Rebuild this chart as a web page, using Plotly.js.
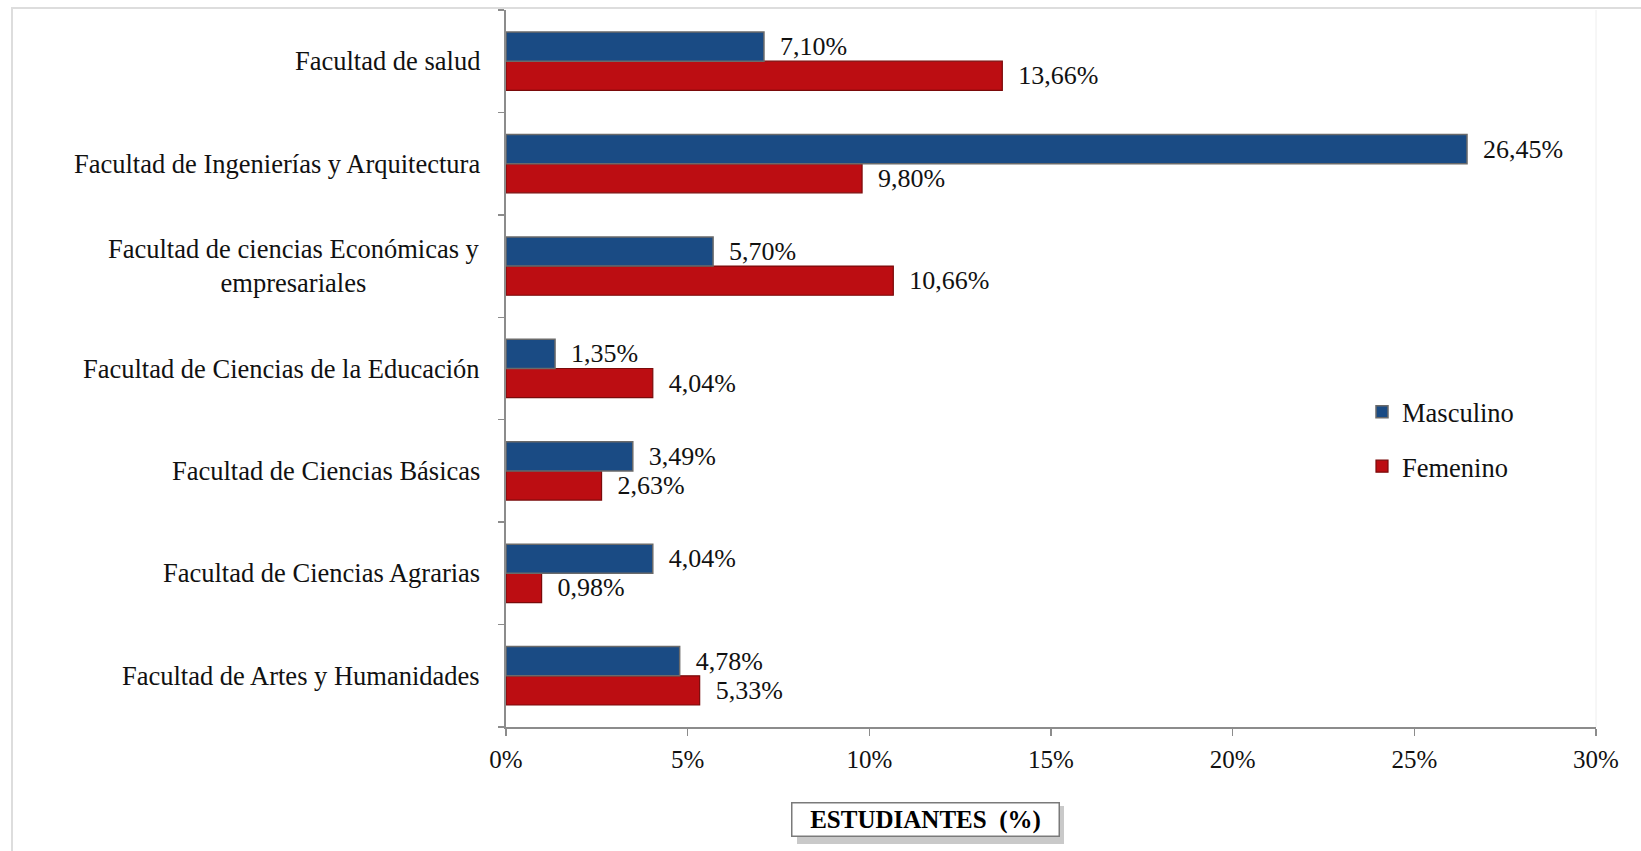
<!DOCTYPE html>
<html>
<head>
<meta charset="utf-8">
<script src="https://cdn.plot.ly/plotly-3.0.1.min.js"></script>
<style>
  html, body { margin: 0; padding: 0; background: #ffffff; }
  #chart { width: 1641px; height: 851px; }
</style>
</head>
<body>
<div id="chart"></div>
<script>
// Categories listed bottom to top
const categories = [
  "Facultad de Artes y Humanidades",
  "Facultad de Ciencias Agrarias",
  "Facultad de Ciencias Básicas",
  "Facultad de Ciencias de la Educación",
  "Facultad de ciencias Económicas y<br>empresariales",
  "Facultad de Ingenierías y Arquitectura",
  "Facultad de salud"
];
const masculino = [4.78, 4.04, 3.49, 1.35, 5.70, 26.45, 7.10];
const femenino  = [5.33, 0.98, 2.63, 4.04, 10.66, 9.80, 13.66];
const seriesNames = ["Masculino", "Femenino"];
const xTickVals = [0, 5, 10, 15, 20, 25, 30];
const xTickLabels = ["0%", "5%", "10%", "15%", "20%", "25%", "30%"];
const axisTitle = "ESTUDIANTES  (%)";

const fmt = v => v.toFixed(2).replace(".", ",") + "%";
const serif = "Liberation Serif";

const W = 1641, H = 851;
const L = 506, R = 1596, T = 10, B = 727;
const px = x => (x - L) / (R - L);
const py = y => (B - y) / (B - T);

const traceFem = {
  type: "bar", orientation: "h", name: seriesNames[1],
  y: categories, x: femenino,
  text: femenino.map(fmt),
  texttemplate: "\u00a0\u00a0%{text}",
  textposition: "outside", cliponaxis: false,
  textfont: {family: serif, size: 26, color: "#111"},
  marker: {color: "#BC0D12", line: {color: "#7a0a0a", width: 1.2}},
  legendgroup: "f", legendrank: 2, hoverinfo: "x+y"
};
const traceMas = {
  type: "bar", orientation: "h", name: seriesNames[0],
  y: categories, x: masculino,
  text: masculino.map(fmt),
  texttemplate: "\u00a0\u00a0%{text}",
  textposition: "outside", cliponaxis: false,
  textfont: {family: serif, size: 26, color: "#111"},
  marker: {color: "#1A4B84", line: {color: "#6a6a6a", width: 1.5}},
  legendgroup: "m", legendrank: 1, hoverinfo: "x+y"
};

const annotations = categories.map(c => ({
  xref: "paper", yref: "y", x: px(482), y: c,
  xanchor: "right", yanchor: "middle", align: "center",
  text: c, showarrow: false,
  font: {family: serif, size: 26.5, color: "#111"}
}));
annotations.push({
  xref: "paper", yref: "paper", x: px(925.5), y: py(819),
  xanchor: "center", yanchor: "middle",
  text: "<b>" + axisTitle + "</b>", showarrow: false,
  font: {family: serif, size: 25, color: "#000"},
  bgcolor: "#ffffff", bordercolor: "#7a7a7a", borderwidth: 1.5,
  borderpad: 2, width: 262
});

const shapes = [
  {type: "rect", xref: "paper", yref: "paper", layer: "below",
   x0: px(12), x1: px(1660), y0: py(870), y1: py(8),
   line: {color: "#dddddd", width: 2}, fillcolor: "rgba(0,0,0,0)"},
  {type: "line", xref: "paper", yref: "paper", layer: "below",
   x0: 1, x1: 1, y0: 0, y1: 1, line: {color: "#eeeeee", width: 1}},
  {type: "rect", xref: "paper", yref: "paper", layer: "below",
   x0: px(797), x1: px(1064), y0: py(844), y1: py(806),
   line: {width: 0}, fillcolor: "#c9c9c9"}
];

const layout = {
  width: W, height: H,
  margin: {l: L, r: W - R, t: T, b: H - B, pad: 0},
  paper_bgcolor: "#ffffff", plot_bgcolor: "#ffffff",
  barmode: "group", bargap: 0.43, bargroupgap: 0,
  showlegend: true,
  legend: {
    x: px(1362), y: py(388), xanchor: "left", yanchor: "top",
    traceorder: "grouped", tracegroupgap: 17,
    font: {family: serif, size: 26.5, color: "#111"},
    bgcolor: "rgba(0,0,0,0)", itemwidth: 30
  },
  xaxis: {
    range: [0, 30], tickmode: "array", tickvals: xTickVals, ticktext: xTickLabels,
    showgrid: false, zeroline: false,
    showline: true, linecolor: "#8c8c8c", linewidth: 2,
    ticks: "outside", ticklen: 7, tickcolor: "#8c8c8c", tickwidth: 1.5,
    ticklabelstandoff: 2,
    tickfont: {family: serif, size: 25, color: "#111"}
  },
  yaxis: {
    type: "category", categoryorder: "array", categoryarray: categories,
    range: [-0.5, categories.length - 0.5],
    showgrid: false, zeroline: false,
    showline: true, linecolor: "#8c8c8c", linewidth: 2,
    ticks: "outside", ticklen: 6, tickcolor: "#8c8c8c", tickwidth: 1.5,
    tickson: "boundaries", showticklabels: false
  },
  annotations: annotations,
  shapes: shapes
};

Plotly.newPlot("chart", [traceFem, traceMas], layout, {displayModeBar: false, staticPlot: true});
</script>
</body>
</html>
